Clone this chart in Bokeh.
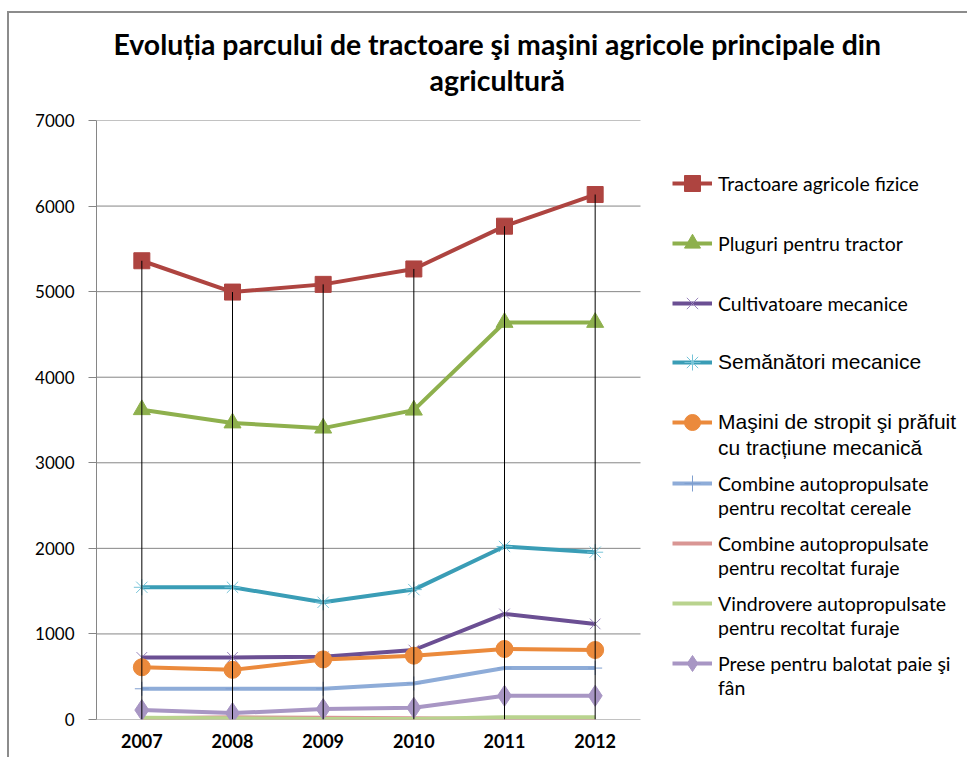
from bokeh.plotting import figure
from bokeh.models import (Range1d, Legend, LegendItem, Title,
                          FixedTicker, ColumnDataSource)
from bokeh.embed import file_html
from bokeh.resources import INLINE

years = ["2007", "2008", "2009", "2010", "2011", "2012"]
tractoare = [5361, 4995, 5085, 5265, 5765, 6135]
pluguri = [3620, 3465, 3405, 3615, 4640, 4640]
cultivatoare = [726, 726, 734, 812, 1234, 1117]
semanatori = [1545, 1545, 1370, 1518, 2022, 1955]
masini = [610, 580, 702, 746, 824, 812]
combine_cereale = [359, 359, 359, 421, 601, 601]
combine_furaje = [15, 25, 20, 15, 5, 5]
vindrovere = [20, 15, 5, 5, 25, 25]
prese = [110, 75, 122, 137, 277, 277]
y_ticks = [0, 1000, 2000, 3000, 4000, 5000, 6000, 7000]

title_line1 = "Evoluția parcului de tractoare şi maşini agricole principale din"
title_line2 = "agricultură"

CAL = "Lato"
ARI = "Liberation Sans"

# layout (pixels)
W, H = 960, 746
LEFT, TOP, BOTTOM = 87, 107, 40
FRAME_W = W - LEFT          # plot frame runs to the right edge (legend lives in it)
FRAME_H = H - TOP - BOTTOM
CAT_W = 544                 # width occupied by the six year categories
n = len(years)
xc = [i + 0.5 for i in range(n)]          # category centres
x_end = n * FRAME_W / CAT_W

p = figure(width=W, height=H, x_range=Range1d(0, x_end), y_range=Range1d(0, 7000),
           output_backend="svg", toolbar_location=None,
           min_border_left=LEFT, min_border_right=0, min_border_top=TOP,
           min_border_bottom=BOTTOM)
p.outline_line_color = None
p.background_fill_color = "white"
p.border_fill_color = "white"
p.styles = {"margin-left": "7px", "margin-top": "11px",
            "border-left": "2px solid #8C8C8C", "border-top": "2px solid #8C8C8C"}

# y axis
p.yaxis.ticker = FixedTicker(ticks=y_ticks)
p.yaxis.axis_line_color = "#868686"
p.yaxis.major_tick_line_color = "#868686"
p.yaxis.major_tick_out = 8
p.yaxis.major_tick_in = 0
p.yaxis.minor_tick_line_color = None
p.yaxis.major_label_text_font = CAL
p.yaxis.major_label_text_font_size = "17px"
p.yaxis.major_label_text_color = "#000000"
p.yaxis.major_label_standoff = 14

# x axis (categorical labels on numeric centres)
p.xaxis.ticker = FixedTicker(ticks=xc)
p.xaxis.major_label_overrides = {x: y for x, y in zip(xc, years)}
p.xaxis.axis_line_color = None
p.xaxis.major_tick_line_color = None
p.xaxis.minor_tick_line_color = None
p.xaxis.major_label_text_font = CAL
p.xaxis.major_label_text_font_style = "bold"
p.xaxis.major_label_text_font_size = "18px"
p.xaxis.major_label_text_color = "#000000"
p.xaxis.major_label_standoff = 8

p.xgrid.grid_line_color = None
p.ygrid.grid_line_color = None

# horizontal gridlines and base line, only over the category area
p.segment(x0=[0] * len(y_ticks), x1=[n] * len(y_ticks), y0=y_ticks, y1=y_ticks,
          line_color="#868686", line_width=1)

src = ColumnDataSource(dict(x=xc, tractoare=tractoare, pluguri=pluguri,
                            cultivatoare=cultivatoare, semanatori=semanatori,
                            masini=masini, cc=combine_cereale, cf=combine_furaje,
                            vi=vindrovere, prese=prese, zero=[0] * n))

LW = 4
def add(col, color, marker=None, msize=15, mcolor=None, hollow=False):
    rs = [p.line("x", col, source=src, line_color=color, line_width=LW)]
    if marker is not None:
        mc = mcolor or color
        if hollow:
            rs.append(p.scatter("x", col, source=src, marker=marker, size=msize,
                                line_color=mc, line_width=1, fill_color=None))
        else:
            rs.append(p.scatter("x", col, source=src, marker=marker, size=msize,
                                line_color=mc, fill_color=mc))
    return rs

r_tr = add("tractoare", "#AE4440", "square", 16)
r_pl = add("pluguri", "#8EB04D", "triangle", 17)
r_cu = add("cultivatoare", "#6B4F93", "x", 15, "#9A86BC", True)
r_se = add("semanatori", "#3A9DB6", "asterisk", 16, "#76C4D8", True)
r_ma = add("masini", "#EB8A3C", "circle", 17)
r_cc = add("cc", "#8EACD8", "cross", 14, "#7F9FCF", True)
r_cf = add("cf", "#D99694")
r_vi = add("vi", "#B9D38E")
r_pr = add("prese", "#A896C4", "diamond", 21)

# drop lines
p.segment(x0="x", y0="zero", x1="x", y1="tractoare", source=src,
          line_color="#000000", line_width=1)

# invisible renderer used for the second line of two-line legend entries
ghost = p.line(x=[], y=[], line_alpha=0)

# titles (stacked outward from the plot frame)
spacer = Title(text=" ", text_font=CAL, text_font_size="18px", standoff=0)
t2 = Title(text=title_line2, align="left", offset=333, text_font=CAL,
           text_font_size="28.4px", text_font_style="bold", text_color="#000000",
           standoff=0)
t1 = Title(text=title_line1, align="left", offset=17, text_font=CAL,
           text_font_size="28.4px", text_font_style="bold", text_color="#000000",
           standoff=0)
p.add_layout(spacer, "above")
p.add_layout(t2, "above")
p.add_layout(t1, "above")

# legends (inside the frame, right of the categories)
def mk_legend(items, font, size, vy, gh, lh):
    lg = Legend(items=[LegendItem(label=l, renderers=r) for l, r in items],
                location=(CAT_W + 32, vy), glyph_width=40, glyph_height=gh,
                label_height=lh, spacing=0, padding=0, margin=0,
                label_standoff=6, border_line_color=None,
                background_fill_alpha=0, label_text_font=font,
                label_text_font_size=size, label_text_color="#000000")
    p.add_layout(lg)
    return lg

# vertical position of an entry: symbol centre measured down from frame top
def vy_for(centre, item_h, n_items=1):
    return FRAME_H - centre - item_h / 2 - (n_items - 1) * item_h

def two_line_entry(first, second, rends, font, size, centre, line_h, pitch):
    mk_legend([(first, rends)], font, size, vy_for(centre, 40), 40, 40)
    mk_legend([(second, [ghost])], font, size, vy_for(centre + pitch, line_h), 10, 10)

mk_legend([("Tractoare agricole fizice", r_tr),
           ("Pluguri pentru tractor", r_pl),
           ("Cultivatoare mecanice", r_cu)], CAL, "19.5px", vy_for(63, 60, 3), 60, 60)
mk_legend([("Semănători mecanice", r_se)], ARI, "21px", vy_for(242, 60), 60, 60)
two_line_entry("Maşini de stropit şi prăfuit", "cu tracțiune mecanică", r_ma,
               ARI, "21px", 302, 25.2, 25.5)
lower = [("Combine autopropulsate", "pentru recoltat cereale", r_cc),
         ("Combine autopropulsate", "pentru recoltat furaje", r_cf),
         ("Vindrovere autopropulsate", "pentru recoltat furaje", r_vi),
         ("Prese pentru balotat paie şi", "fân", r_pr)]
for k, (a, b, r) in enumerate(lower):
    two_line_entry(a, b, r, CAL, "19.5px", 363 + 60 * k, 23.4, 24)

open("out.html", "w").write(file_html(p, INLINE))
